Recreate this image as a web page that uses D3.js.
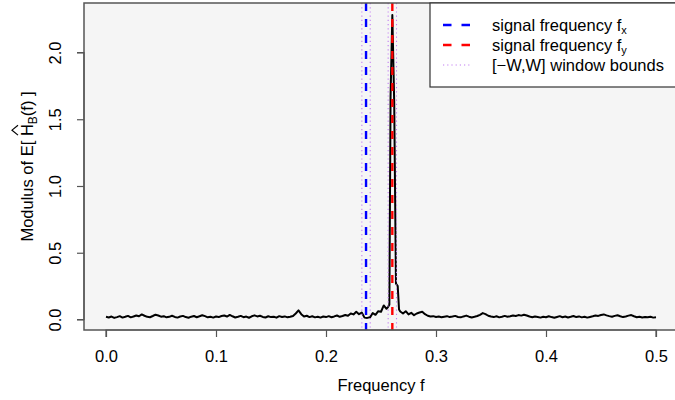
<!DOCTYPE html>
<html>
<head>
<meta charset="utf-8">
<script src="https://cdn.jsdelivr.net/npm/d3@7"></script>
<style>
  body { margin: 0; background: #fff; }
  svg { font-family: "Liberation Sans", Arial, sans-serif; }
</style>
</head>
<body>
<svg id="chart" width="675" height="400"></svg>
<script>
// frequency grid and modulus values
const freq = [
  0.0000, 0.0025, 0.0050, 0.0075, 0.0100, 0.0125, 0.0150, 0.0175, 0.0200, 0.0225,
  0.0250, 0.0275, 0.0300, 0.0325, 0.0350, 0.0375, 0.0400, 0.0425, 0.0450, 0.0475,
  0.0500, 0.0525, 0.0550, 0.0575, 0.0600, 0.0625, 0.0650, 0.0675, 0.0700, 0.0725,
  0.0750, 0.0775, 0.0800, 0.0825, 0.0850, 0.0875, 0.0900, 0.0925, 0.0950, 0.0975,
  0.1000, 0.1025, 0.1050, 0.1075, 0.1100, 0.1125, 0.1150, 0.1175, 0.1200, 0.1225,
  0.1250, 0.1275, 0.1300, 0.1325, 0.1350, 0.1375, 0.1400, 0.1425, 0.1450, 0.1475,
  0.1500, 0.1525, 0.1550, 0.1575, 0.1600, 0.1625, 0.1650, 0.1675, 0.1700, 0.1725,
  0.1750, 0.1775, 0.1800, 0.1825, 0.1850, 0.1875, 0.1900, 0.1925, 0.1950, 0.1975,
  0.2000, 0.2025, 0.2050, 0.2075, 0.2100, 0.2125, 0.2150, 0.2175, 0.2200, 0.2225,
  0.2250, 0.2275, 0.2300, 0.2325, 0.2350, 0.2375, 0.2400, 0.2425, 0.2450, 0.2475,
  0.2500, 0.2525, 0.2550, 0.2565, 0.2576, 0.2587, 0.2603, 0.2620, 0.2636, 0.2652,
  0.2664, 0.2675, 0.2700, 0.2725, 0.2750, 0.2775, 0.2800, 0.2825, 0.2850, 0.2875,
  0.2900, 0.2925, 0.2950, 0.2975, 0.3000, 0.3025, 0.3050, 0.3075, 0.3100, 0.3125,
  0.3150, 0.3175, 0.3200, 0.3225, 0.3250, 0.3275, 0.3300, 0.3325, 0.3350, 0.3375,
  0.3400, 0.3425, 0.3450, 0.3475, 0.3500, 0.3525, 0.3550, 0.3575, 0.3600, 0.3625,
  0.3650, 0.3675, 0.3700, 0.3725, 0.3750, 0.3775, 0.3800, 0.3825, 0.3850, 0.3875,
  0.3900, 0.3925, 0.3950, 0.3975, 0.4000, 0.4025, 0.4050, 0.4075, 0.4100, 0.4125,
  0.4150, 0.4175, 0.4200, 0.4225, 0.4250, 0.4275, 0.4300, 0.4325, 0.4350, 0.4375,
  0.4400, 0.4425, 0.4450, 0.4475, 0.4500, 0.4525, 0.4550, 0.4575, 0.4600, 0.4625,
  0.4650, 0.4675, 0.4700, 0.4725, 0.4750, 0.4775, 0.4800, 0.4825, 0.4850, 0.4875,
  0.4900, 0.4925, 0.4950, 0.4975, 0.5000
];
const modulus = [
  0.020, 0.015, 0.022, 0.012, 0.018, 0.025, 0.014, 0.020, 0.027, 0.016,
  0.022, 0.030, 0.024, 0.038, 0.028, 0.020, 0.017, 0.026, 0.036, 0.030,
  0.021, 0.025, 0.016, 0.020, 0.028, 0.019, 0.014, 0.022, 0.027, 0.018,
  0.013, 0.021, 0.026, 0.017, 0.024, 0.032, 0.025, 0.016, 0.020, 0.014,
  0.022, 0.018, 0.026, 0.030, 0.022, 0.034, 0.024, 0.015, 0.020, 0.027,
  0.017, 0.022, 0.013, 0.024, 0.031, 0.023, 0.028, 0.019, 0.015, 0.024,
  0.018, 0.021, 0.014, 0.025, 0.019, 0.023, 0.016, 0.020, 0.026, 0.045,
  0.068, 0.040, 0.022, 0.028, 0.018, 0.024, 0.016, 0.021, 0.014, 0.022,
  0.018, 0.025, 0.017, 0.023, 0.030, 0.020, 0.026, 0.034, 0.028, 0.045,
  0.038, 0.058, 0.040, 0.052, 0.014, 0.012, 0.016, 0.048, 0.035, 0.062,
  0.058, 0.105, 0.080, 0.095, 0.110, 1.670, 2.280, 1.630, 0.270, 0.250,
  0.075, 0.060, 0.045, 0.062, 0.038, 0.050, 0.032, 0.045, 0.052, 0.058,
  0.040, 0.028, 0.022, 0.025, 0.019, 0.023, 0.017, 0.021, 0.025, 0.018,
  0.022, 0.027, 0.019, 0.016, 0.023, 0.029, 0.021, 0.015, 0.020, 0.026,
  0.035, 0.048, 0.040, 0.028, 0.022, 0.018, 0.024, 0.016, 0.021, 0.027,
  0.020, 0.024, 0.030, 0.026, 0.033, 0.029, 0.036, 0.030, 0.022, 0.017,
  0.023, 0.019, 0.014, 0.021, 0.017, 0.024, 0.018, 0.013, 0.019, 0.025,
  0.017, 0.022, 0.015, 0.020, 0.026, 0.018, 0.023, 0.016, 0.021, 0.014,
  0.019, 0.024, 0.030, 0.027, 0.034, 0.038, 0.031, 0.025, 0.020, 0.027,
  0.032, 0.024, 0.018, 0.023, 0.029, 0.033, 0.024, 0.017, 0.021, 0.015,
  0.019, 0.016, 0.020, 0.014, 0.017
];
const fx = 0.2364;         // signal frequency f_x
const fy = 0.2603;         // signal frequency f_y
const halfWindow = 0.0038; // W
const xTicks = [0, 0.1, 0.2, 0.3, 0.4, 0.5];
const yTicks = [0, 0.5, 1.0, 1.5, 2.0];

const width = 675;
const height = 400;
const margin = { top: 3, right: -3, bottom: 70, left: 84 };
const fontSize = 16.5;

const svg = d3.select('#chart');
const data = freq.map((f, i) => ({ f: f, v: modulus[i] }));

// R style 4% padding around the data range
const xr = d3.extent(freq);
const yr = d3.extent(modulus);
const xPad = (xr[1] - xr[0]) * 0.04;
const yPad = (yr[1] - yr[0]) * 0.04;

const x = d3.scaleLinear()
    .domain([xr[0] - xPad, xr[1] + xPad])
    .range([margin.left, width - margin.right]);
const y = d3.scaleLinear()
    .domain([yr[0] - yPad, yr[1] + yPad])
    .range([height - margin.bottom, margin.top]);

const x0 = x.range()[0], x1 = x.range()[1];
const y0 = y.range()[1], y1 = y.range()[0];

svg.append('defs').append('clipPath').attr('id', 'plotClip')
    .append('rect')
    .attr('x', x0).attr('y', y0)
    .attr('width', x1 - x0).attr('height', y1 - y0);

svg.append('rect')
    .attr('x', x0).attr('y', y0)
    .attr('width', x1 - x0).attr('height', y1 - y0)
    .attr('fill', '#f5f5f5');

const plot = svg.append('g').attr('clip-path', 'url(#plotClip)');

plot.append('path')
    .datum(data)
    .attr('fill', 'none')
    .attr('stroke', '#000')
    .attr('stroke-width', 2)
    .attr('stroke-linejoin', 'round')
    .attr('d', d3.line().x(d => x(d.f)).y(d => y(d.v)));

// window bounds
const bounds = [fx - halfWindow, fx + halfWindow, fy - halfWindow, fy + halfWindow];
plot.selectAll('.bound')
    .data(bounds)
    .join('line')
    .attr('class', 'bound')
    .attr('x1', d => x(d)).attr('x2', d => x(d))
    .attr('y1', y0).attr('y2', y1)
    .attr('stroke', '#c27ef2')
    .attr('stroke-width', 1.1)
    .attr('stroke-dasharray', '1.2,3');

plot.selectAll('.signal')
    .data([{ f: fx, c: '#0000ff' }, { f: fy, c: '#ff0000' }])
    .join('line')
    .attr('class', 'signal')
    .attr('x1', d => x(d.f)).attr('x2', d => x(d.f))
    .attr('y1', y0).attr('y2', y1)
    .attr('stroke', d => d.c)
    .attr('stroke-width', 2.4)
    .attr('stroke-dasharray', '8,8');

// axes
const xAxis = svg.append('g')
    .attr('transform', `translate(0,${y1})`)
    .call(d3.axisBottom(x).tickValues(xTicks).tickFormat(d3.format('.1f')).tickSize(7).tickSizeOuter(0));
xAxis.select('.domain').attr('d', `M${x(xTicks[0])},7V0H${x(xTicks[xTicks.length - 1])}V7`);
xAxis.selectAll('line').attr('stroke', '#555').attr('stroke-width', 1.2);
xAxis.select('.domain').attr('stroke', '#555').attr('stroke-width', 1.2).attr('fill', 'none');
xAxis.selectAll('text')
    .attr('y', 20).attr('dy', '0.71em')
    .attr('fill', '#000')
    .style('font-size', fontSize + 'px');

const yAxis = svg.append('g')
    .attr('transform', `translate(${x0},0)`)
    .call(d3.axisLeft(y).tickValues(yTicks).tickFormat(d3.format('.1f')).tickSize(7).tickSizeOuter(0));
yAxis.select('.domain').attr('d', `M-7,${y(yTicks[0])}H0V${y(yTicks[yTicks.length - 1])}H-7`)
    .attr('stroke', '#555').attr('stroke-width', 1.2).attr('fill', 'none');
yAxis.selectAll('line').attr('stroke', '#555').attr('stroke-width', 1.2);
yAxis.selectAll('text')
    .attr('transform', 'rotate(-90)')
    .attr('x', 0).attr('y', -29).attr('dy', '0.35em')
    .attr('text-anchor', 'middle')
    .attr('fill', '#000')
    .style('font-size', fontSize + 'px');

// box round the plot region
svg.append('rect')
    .attr('x', x0).attr('y', y0)
    .attr('width', x1 - x0).attr('height', y1 - y0)
    .attr('fill', 'none')
    .attr('stroke', '#555')
    .attr('stroke-width', 1.5);

// axis titles
svg.append('text')
    .attr('x', (x0 + x1) / 2).attr('y', 391)
    .attr('text-anchor', 'middle')
    .style('font-size', fontSize + 'px')
    .text('Frequency f');

const yTitle = svg.append('g')
    .attr('transform', `translate(33,${(y0 + y1) / 2}) rotate(-90)`);
const yt = yTitle.append('text')
    .attr('text-anchor', 'middle')
    .style('font-size', fontSize + 'px');
yt.append('tspan').text('Modulus of E[ ');
yt.append('tspan').text('H');
yt.append('tspan').attr('dy', 4).style('font-size', '12px').text('B');
yt.append('tspan').attr('dy', -4).text('(f) ]');
// hat over the H
const hPos = yt.node().getStartPositionOfChar(14);
const hW = yt.node().getExtentOfChar(14).width;
yTitle.append('path')
    .attr('d', `M${hPos.x + 1},-15L${hPos.x + hW / 2},-21L${hPos.x + hW - 1},-15`)
    .attr('fill', 'none')
    .attr('stroke', '#000')
    .attr('stroke-width', 1.2);

// legend
const legendItems = [
  { label: 'signal frequency f', sub: 'x', color: '#0000ff', dash: '8.5,10', w: 2.4 },
  { label: 'signal frequency f', sub: 'y', color: '#ff0000', dash: '8.5,10', w: 2.4 },
  { label: '[\u2212W,W] window bounds', sub: null, color: '#c27ef2', dash: '1.2,3', w: 1.1 }
];
const legend = svg.append('g');
legend.append('rect')
    .attr('x', 430).attr('y', y0)
    .attr('width', x1 - 430).attr('height', 84)
    .attr('fill', '#fff')
    .attr('stroke', '#333')
    .attr('stroke-width', 1.2);
const rows = legend.selectAll('.row')
    .data(legendItems)
    .join('g')
    .attr('class', 'row')
    .attr('transform', (d, i) => `translate(0,${25 + i * 20})`);
rows.append('line')
    .attr('x1', 443).attr('x2', 471)
    .attr('stroke', d => d.color)
    .attr('stroke-width', d => d.w)
    .attr('stroke-dasharray', d => d.dash);
const lt = rows.append('text')
    .attr('x', 492).attr('dy', '0.35em')
    .style('font-size', fontSize + 'px');
lt.append('tspan').text(d => d.label);
lt.filter(d => d.sub).append('tspan')
    .attr('dy', 3).style('font-size', '11px')
    .text(d => d.sub);
</script>
</body>
</html>
